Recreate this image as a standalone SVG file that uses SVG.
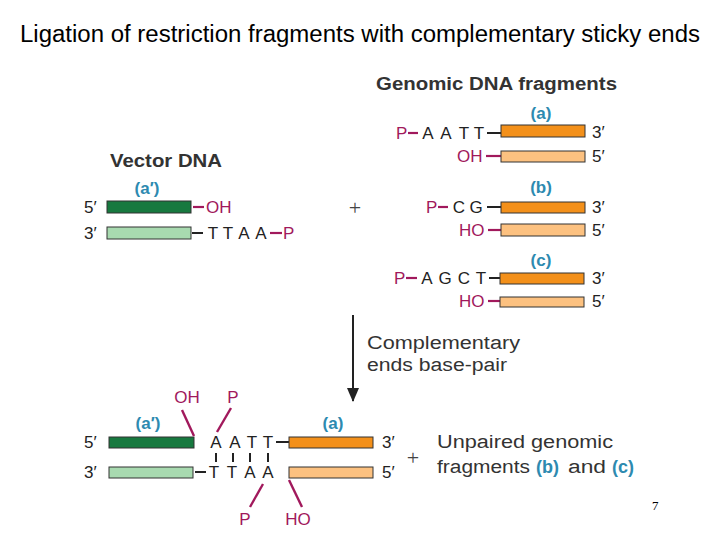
<svg xmlns="http://www.w3.org/2000/svg" width="720" height="540" viewBox="0 0 720 540">
<defs>
<style>
text{font-family:"Liberation Sans",Arial,sans-serif;fill:#222}
.title{font-size:23px;fill:#000}
.head{font-size:18px;font-weight:bold;fill:#333}
.lab{font-size:17px;font-weight:bold;fill:#2d8ab0}
.seq{font-size:17px;fill:#222}
.mag{font-size:17px;fill:#a1195c}
.note{font-size:18px;fill:#333}
.dg{fill:#17793f;stroke:#333;stroke-width:1}
.lg{fill:#a8dab0;stroke:#333;stroke-width:1}
.or{fill:#f3901a;stroke:#333;stroke-width:1}
.lo{fill:#fcc180;stroke:#333;stroke-width:1}
.md{stroke:#a1195c;stroke-width:2.2}
.bd{stroke:#222;stroke-width:2}
.ml{stroke:#a1195c;stroke-width:2.4}
.tick{stroke:#222;stroke-width:2}
</style>
<marker id="ah" viewBox="0 0 14 12" refX="13" refY="6" markerWidth="14" markerHeight="12" orient="auto" markerUnits="userSpaceOnUse">
<path d="M0,0 L14,6 L0,12 Z" fill="#222"/>
</marker>
</defs>
<rect width="720" height="540" fill="#fff"/>
<text class="title" x="20" y="42" textLength="680" lengthAdjust="spacingAndGlyphs">Ligation of restriction fragments with complementary sticky ends</text>

<g id="genomic-title"><text class="head" x="376" y="90" textLength="241" lengthAdjust="spacingAndGlyphs">Genomic DNA fragments</text></g>

<g id="fragment-a">
<text class="lab" x="541" y="119" text-anchor="middle">(a)</text>
<text class="mag" x="396" y="139">P</text>
<line class="md" x1="408" y1="133" x2="418" y2="133"/>
<text class="seq" x="428 446 464 479" y="139" text-anchor="middle">AATT</text>
<line class="bd" x1="487" y1="133" x2="501" y2="133"/>
<rect class="or" x="501" y="125" width="84" height="12"/>
<text class="seq" x="592" y="138">3′</text>
<text class="mag" x="457" y="162">OH</text>
<line class="md" x1="486" y1="156" x2="501" y2="156"/>
<rect class="lo" x="501" y="151" width="84" height="11"/>
<text class="seq" x="592" y="162">5′</text>
</g>

<g id="fragment-b">
<text class="lab" x="541" y="193" text-anchor="middle">(b)</text>
<text class="mag" x="426" y="213">P</text>
<line class="md" x1="438" y1="207" x2="448" y2="207"/>
<text class="seq" x="459 476" y="213" text-anchor="middle">CG</text>
<line class="bd" x1="487" y1="207" x2="501" y2="207"/>
<rect class="or" x="501" y="202" width="84" height="11"/>
<text class="seq" x="592" y="213">3′</text>
<text class="mag" x="459" y="236">HO</text>
<line class="md" x1="488" y1="230" x2="501" y2="230"/>
<rect class="lo" x="501" y="224" width="84" height="12"/>
<text class="seq" x="592" y="236">5′</text>
</g>

<g id="fragment-c">
<text class="lab" x="541" y="266" text-anchor="middle">(c)</text>
<text class="mag" x="394" y="284">P</text>
<line class="md" x1="406" y1="278" x2="417" y2="278"/>
<text class="seq" x="427 445 464 481" y="284" text-anchor="middle">AGCT</text>
<line class="bd" x1="489" y1="278" x2="501" y2="278"/>
<rect class="or" x="500" y="273" width="84" height="11"/>
<text class="seq" x="592" y="284">3′</text>
<text class="mag" x="459" y="307">HO</text>
<line class="md" x1="488" y1="301" x2="500" y2="301"/>
<rect class="lo" x="500" y="297" width="84" height="10"/>
<text class="seq" x="592" y="307">5′</text>
</g>

<g id="vector">
<text class="head" x="110" y="167" textLength="112" lengthAdjust="spacingAndGlyphs">Vector DNA</text>
<text class="lab" x="147" y="194" text-anchor="middle">(a′)</text>
<text class="seq" x="84" y="213">5′</text>
<rect class="dg" x="107" y="201" width="84" height="12"/>
<line class="md" x1="193" y1="207" x2="204" y2="207"/>
<text class="mag" x="206" y="213">OH</text>
<text class="seq" x="84" y="239">3′</text>
<rect class="lg" x="107" y="227" width="84" height="12"/>
<line class="bd" x1="192" y1="233" x2="203" y2="233"/>
<text class="seq" x="213 228 244 261" y="239" text-anchor="middle">TTAA</text>
<line class="md" x1="270" y1="233" x2="282" y2="233"/>
<text class="mag" x="283" y="239">P</text>
</g>

<g id="plus-top"><text x="355" y="215" text-anchor="middle" style="font-family:'Liberation Serif',serif;font-size:22px;fill:#444">+</text></g>

<g id="connectors">
<line x1="353" y1="315" x2="353" y2="401" stroke="#222" stroke-width="2" marker-end="url(#ah)"/>
</g>
<g id="step-label">
<text class="note" x="367" y="349" textLength="153" lengthAdjust="spacingAndGlyphs">Complementary</text>
<text class="note" x="367" y="371" textLength="140" lengthAdjust="spacingAndGlyphs">ends base-pair</text>
</g>

<g id="ligated">
<text class="lab" x="148" y="429" text-anchor="middle">(a′)</text>
<text class="lab" x="333" y="429" text-anchor="middle">(a)</text>
<text class="seq" x="84" y="448">5′</text>
<rect class="dg" x="109" y="437" width="85" height="11"/>
<text class="seq" x="216 235 252 268" y="448" text-anchor="middle">AATT</text>
<line class="bd" x1="276" y1="442" x2="289" y2="442"/>
<rect class="or" x="289" y="437" width="84" height="11"/>
<text class="seq" x="382" y="448">3′</text>
<line class="tick" x1="216" y1="453" x2="216" y2="462"/>
<line class="tick" x1="233" y1="453" x2="233" y2="462"/>
<line class="tick" x1="250" y1="453" x2="250" y2="462"/>
<line class="tick" x1="268" y1="453" x2="268" y2="462"/>
<text class="seq" x="84" y="478">3′</text>
<rect class="lg" x="109" y="467" width="84" height="11"/>
<line class="bd" x1="195" y1="472" x2="206" y2="472"/>
<text class="seq" x="214 232 250 268" y="478" text-anchor="middle">TTAA</text>
<rect class="lo" x="289" y="467" width="84" height="11"/>
<text class="seq" x="382" y="478">5′</text>
<line class="ml" x1="182" y1="410" x2="194" y2="436"/>
<text class="mag" x="187" y="403" text-anchor="middle">OH</text>
<line class="ml" x1="231" y1="408" x2="217" y2="432"/>
<text class="mag" x="233" y="403" text-anchor="middle">P</text>
<line class="ml" x1="263" y1="484" x2="250" y2="507"/>
<text class="mag" x="245" y="525" text-anchor="middle">P</text>
<line class="ml" x1="289" y1="480" x2="302" y2="507"/>
<text class="mag" x="298" y="525" text-anchor="middle">HO</text>
</g>

<g id="unpaired">
<text x="413" y="465" text-anchor="middle" style="font-family:'Liberation Serif',serif;font-size:22px;fill:#444">+</text>
<text class="note" x="437" y="448" textLength="176" lengthAdjust="spacingAndGlyphs">Unpaired genomic</text>
<text class="note" y="473"><tspan x="437" textLength="93" lengthAdjust="spacingAndGlyphs">fragments</tspan><tspan x="536" style="font-weight:bold;fill:#2d8ab0">(b)</tspan><tspan x="568" textLength="38" lengthAdjust="spacingAndGlyphs">and</tspan><tspan x="612" style="font-weight:bold;fill:#2d8ab0">(c)</tspan></text>
</g>

<text x="652" y="510" style="font-family:'Liberation Serif',serif;font-size:13px;fill:#000">7</text>
</svg>
